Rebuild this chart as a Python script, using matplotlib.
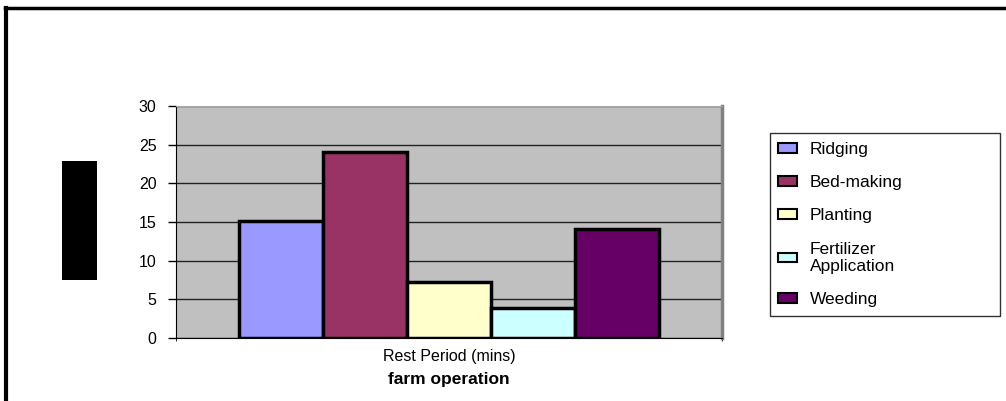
import numpy as np
import matplotlib.pyplot as plt
from matplotlib.patches import Rectangle
from matplotlib.lines import Line2D

plt.rcParams['font.family'] = ['Liberation Sans', 'DejaVu Sans']

category = ["Rest Period (mins)"]
operations = ["Ridging", "Bed-making", "Planting", "Fertilizer\nApplication", "Weeding"]
rest_mins = [15.1, 24, 7.2, 3.9, 14.1]
colors = ["#9999FF", "#993366", "#FFFFCC", "#CCFFFF", "#660066"]

fig = plt.figure(figsize=(10.06, 4.01), dpi=100)
ax = fig.add_axes([0.175, 0.157, 0.5427, 0.5786])
ax.set_facecolor("#C0C0C0")

w = 0.1538
x0 = np.arange(len(category))
for i, (name, v, c) in enumerate(zip(operations, rest_mins, colors)):
    ax.bar(x0 + (i - 2) * w, v, width=w, color=c, edgecolor="black",
           linewidth=2.5, label=name, zorder=3)

ax.set_xlim(-0.5, 0.5)
ax.set_ylim(0, 30)
ax.set_yticks(range(0, 31, 5))
ax.yaxis.grid(True, color="#222222", linewidth=1)
ax.set_axisbelow(True)
ax.tick_params(axis="y", length=6, direction="out", labelsize=11.5, pad=8, width=1)
ax.set_xticks(x0)
ax.set_xticklabels(category, fontsize=11.5)
ax.tick_params(axis="x", length=0, pad=8)
ax.set_xticks([-0.5, 0.5], minor=True)
ax.tick_params(axis="x", which="minor", length=5, direction="inout")
ax.set_xlabel("farm operation", fontsize=12.5, fontweight="bold", labelpad=6)

ax.spines["left"].set_color("black")
ax.spines["bottom"].set_color("black")
ax.spines["top"].set_color("#A8A8A8")
ax.spines["right"].set_color("#808080")
ax.spines["right"].set_linewidth(2.5)

# outer frame lines (top and left only)
fig.add_artist(Line2D([0.005, 0.998], [0.979, 0.979], color="black", linewidth=2.5))
fig.add_artist(Line2D([0.006, 0.006], [0.0, 0.979], color="black", linewidth=3))

# black box where the y label sits
fig.add_artist(Rectangle((0.062, 0.302), 0.034, 0.296, facecolor="black",
                         edgecolor="none", transform=fig.transFigure))

leg = fig.legend(loc="upper left", bbox_to_anchor=(0.765, 0.224, 0.229, 0.444),
                 mode="expand", fontsize=12.5, frameon=True, fancybox=False,
                 edgecolor="black", handlelength=1.1, handleheight=0.5,
                 labelspacing=1.05, borderpad=0.5, borderaxespad=0,
                 handletextpad=0.7)
leg.get_frame().set_linewidth(1)
for h in leg.legend_handles:
    h.set_linewidth(1.5)

fig.savefig("out.png", dpi=100)
